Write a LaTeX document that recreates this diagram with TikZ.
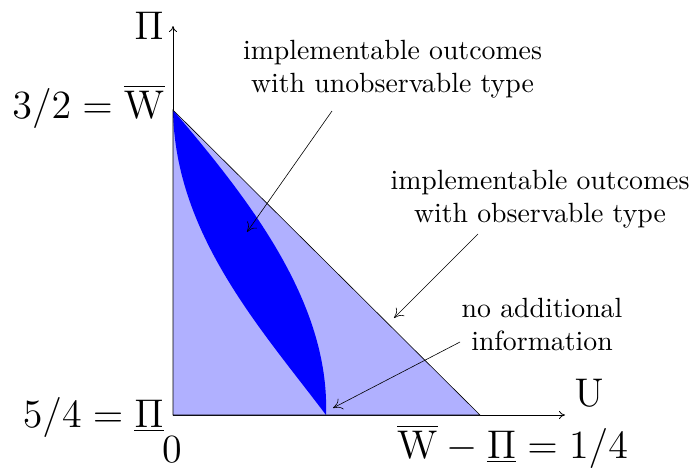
\documentclass[tikz,border=0pt]{standalone}
\usetikzlibrary{arrows.meta}
\definecolor{lightregion}{RGB}{176,176,255}
\definecolor{darkregion}{RGB}{0,0,255}
\newcommand{\bigmath}[1]{\scalebox{2.78}{\Large$#1$}}
\newcommand{\annottext}[1]{\scalebox{2.78}{\begin{tabular}[t]{@{}c@{}}#1\end{tabular}}}
\tikzset{
  mathlabel/.style={inner sep=0pt},
  annot/.style={inner sep=0pt},
  axisline/.style={line width=0.8pt, -{To[length=6pt,width=8pt]}},
  pointer/.style={line width=0.6pt, -{To[length=9pt,width=12pt]}},
}
\begin{document}
\begin{tikzpicture}[x=1pt,y=-1pt]
\useasboundingbox (0,0) rectangle (693,469);
% key points
\coordinate (O) at (173,415);
\coordinate (Wtop) at (173,110);
\coordinate (Uend) at (480,415);
\coordinate (Lbot) at (326,415);
\coordinate (Ytip) at (173,26);
\coordinate (Xtip) at (565,415);
% axes
\draw[axisline] (O) -- (Ytip);
\draw[axisline] (O) -- (Xtip);
% outer triangle
\fill[lightregion] (Wtop) -- (Uend) -- (O) -- cycle;
% lens
\fill[darkregion] (Wtop) .. controls (175,235) and (262,330) .. (Lbot)
   .. controls (330,300) and (245,195) .. (Wtop) -- cycle;
\draw[line width=0.6pt] (Wtop) -- (Uend) -- (O) -- cycle;
% labels
\node[mathlabel, anchor=base] (PiLab) at (149,39) {\bigmath{\Pi}};
\node[mathlabel, anchor=base east] (WLab) at (165,118) {\bigmath{3/2=\overline{\mathrm{W}}}};
\node[mathlabel, anchor=base east] (PiBLab) at (164,427) {\bigmath{5/4=\underline{\Pi}}};
\node[mathlabel, anchor=base] (ZeroLab) at (172,462) {\bigmath{0}};
\node[mathlabel, anchor=base] (ULab) at (589,406) {\bigmath{\mathrm{U}}};
\node[mathlabel, anchor=base west] (DiffLab) at (397,458) {\bigmath{\overline{\mathrm{W}}-\underline{\Pi}=1/4}};
% annotations
\node[annot, anchor=base] (t1) at (392.5,59) {\annottext{implementable outcomes\\with unobservable type}};
\node[annot, anchor=base] (t2) at (540,189) {\annottext{implementable outcomes\\with observable type}};
\node[annot, anchor=base] (t3) at (542,317) {\annottext{no additional\\information}};
\coordinate (s1) at (332,111);
\coordinate (e1) at (247,232);
\coordinate (s2) at (478,234);
\coordinate (e2) at (394,318);
\coordinate (s3) at (460,342);
\coordinate (e3) at (333,408);
\draw[pointer] (s1) -- (e1);
\draw[pointer] (s2) -- (e2);
\draw[pointer] (s3) -- (e3);
\end{tikzpicture}
\end{document}
